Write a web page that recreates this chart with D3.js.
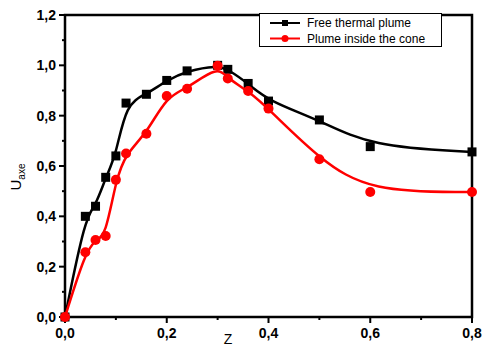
<!DOCTYPE html>
<html>
<head>
<meta charset="utf-8">
<script src="https://cdn.jsdelivr.net/npm/d3@7"></script>
<style>
    body { margin: 0; background: #fff; }
    text { font-family: Arial, "Liberation Sans", sans-serif; }
</style>
</head>
<body>
<svg id="chart" width="484" height="347"></svg>
<script>
// data
var zValues = [0, 0.04, 0.06, 0.08, 0.10, 0.12, 0.16, 0.20, 0.24, 0.30, 0.32, 0.36, 0.40, 0.50, 0.60, 0.80];
var freePlume = [0, 0.40, 0.44, 0.555, 0.64, 0.85, 0.885, 0.94, 0.978, 1.0, 0.984, 0.928, 0.858, 0.783, 0.677, 0.656];
var conePlume = [0, 0.257, 0.306, 0.322, 0.545, 0.65, 0.728, 0.878, 0.907, 0.998, 0.948, 0.898, 0.828, 0.627, 0.497, 0.497];
var xTicks = [0, 0.2, 0.4, 0.6, 0.8];
var yTicks = [0, 0.2, 0.4, 0.6, 0.8, 1.0, 1.2];
var seriesNames = ['Free thermal plume', 'Plume inside the cone'];

var svg = d3.select('#chart');
// plot box (window.top is reserved, so use plot* names)
var plotLeft = 65, plotRight = 472, plotTop = 15, plotBottom = 317;

var x = d3.scaleLinear().domain([0, 0.8]).range([plotLeft, plotRight]);
var y = d3.scaleLinear().domain([0, 1.2]).range([plotBottom, plotTop]);

var fmt = function(d) { return d3.format('.1f')(d).replace('.', ','); };

// minor ticks
var minorX = [0.1, 0.3, 0.5, 0.7];
var minorY = [0.1, 0.3, 0.5, 0.7, 0.9, 1.1];

svg.selectAll('.minorx').data(minorX).enter().append('line')
    .attr('x1', function(d) { return x(d); })
    .attr('x2', function(d) { return x(d); })
    .attr('y1', plotBottom).attr('y2', plotBottom + 3)
    .attr('stroke', '#000').attr('stroke-width', 2);

svg.selectAll('.minory').data(minorY).enter().append('line')
    .attr('y1', function(d) { return y(d); })
    .attr('y2', function(d) { return y(d); })
    .attr('x1', plotLeft).attr('x2', plotLeft - 3)
    .attr('stroke', '#000').attr('stroke-width', 2);

// major ticks
svg.selectAll('.majorx').data(xTicks).enter().append('line')
    .attr('x1', function(d) { return x(d); })
    .attr('x2', function(d) { return x(d); })
    .attr('y1', plotBottom).attr('y2', plotBottom + 6)
    .attr('stroke', '#000').attr('stroke-width', 2);

svg.selectAll('.majory').data(yTicks).enter().append('line')
    .attr('y1', function(d) { return y(d); })
    .attr('y2', function(d) { return y(d); })
    .attr('x1', plotLeft).attr('x2', plotLeft - 6)
    .attr('stroke', '#000').attr('stroke-width', 2);

// tick labels
svg.selectAll('.xlabel').data(xTicks).enter().append('text')
    .attr('x', function(d) { return x(d); })
    .attr('y', plotBottom + 21)
    .attr('text-anchor', 'middle')
    .attr('font-size', 14)
    .attr('font-weight', 'bold')
    .text(fmt);

svg.selectAll('.ylabel').data(yTicks).enter().append('text')
    .attr('x', plotLeft - 9)
    .attr('y', function(d) { return y(d); })
    .attr('dy', '0.36em')
    .attr('text-anchor', 'end')
    .attr('font-size', 14)
    .attr('font-weight', 'bold')
    .text(fmt);

// frame
svg.append('rect')
    .attr('x', plotLeft).attr('y', plotTop)
    .attr('width', plotRight - plotLeft).attr('height', plotBottom - plotTop)
    .attr('fill', 'none')
    .attr('stroke', '#000')
    .attr('stroke-width', 2.5);

// curves
var line = d3.line()
    .x(function(d) { return x(d[0]); })
    .y(function(d) { return y(d[1]); })
    .curve(d3.curveBasis);

var series = [
    { name: seriesNames[0], values: freePlume, color: '#000', marker: 'square' },
    { name: seriesNames[1], values: conePlume, color: '#ff0000', marker: 'circle' }
];

series.forEach(function(s)
{
    var pts = zValues.map(function(z, i) { return [z, s.values[i]]; });

    svg.append('path')
        .attr('d', line(pts))
        .attr('fill', 'none')
        .attr('stroke', s.color)
        .attr('stroke-width', 2.5);

    if(s.marker == 'square')
    {
        svg.selectAll(null).data(pts).enter().append('rect')
            .attr('x', function(d) { return x(d[0]) - 4.5; })
            .attr('y', function(d) { return y(d[1]) - 4.5; })
            .attr('width', 9).attr('height', 9)
            .attr('fill', s.color);
    }
    else
    {
        svg.selectAll(null).data(pts).enter().append('circle')
            .attr('cx', function(d) { return x(d[0]); })
            .attr('cy', function(d) { return y(d[1]); })
            .attr('r', 5)
            .attr('fill', s.color);
    }
});

// legend
var legend = svg.append('g');
legend.append('rect')
    .attr('x', 259.5).attr('y', 13.5)
    .attr('width', 182).attr('height', 33)
    .attr('fill', '#fff')
    .attr('stroke', '#000')
    .attr('stroke-width', 1);

series.forEach(function(s, i)
{
    var ly = 23 + i * 15.5;
    legend.append('line')
        .attr('x1', 270).attr('x2', 300)
        .attr('y1', ly).attr('y2', ly)
        .attr('stroke', s.color).attr('stroke-width', 2);
    if(s.marker == 'square')
    {
        legend.append('rect')
            .attr('x', 282).attr('y', ly - 3)
            .attr('width', 6).attr('height', 6)
            .attr('fill', s.color);
    }
    else
    {
        legend.append('circle')
            .attr('cx', 285).attr('cy', ly).attr('r', 3.5)
            .attr('fill', s.color);
    }
    legend.append('text')
        .attr('x', 307).attr('y', ly)
        .attr('dy', '0.36em')
        .attr('font-size', 12)
        .text(s.name);
});

// axis titles
svg.append('text')
    .attr('x', 228).attr('y', 344)
    .attr('text-anchor', 'middle')
    .attr('font-size', 14)
    .text('Z');

var yTitle = svg.append('text')
    .attr('transform', 'translate(21,177) rotate(-90)')
    .attr('text-anchor', 'middle')
    .attr('font-size', 15);
yTitle.append('tspan').text('U');
yTitle.append('tspan').attr('font-size', 10).attr('dy', 4).text('axe');
</script>
</body>
</html>
